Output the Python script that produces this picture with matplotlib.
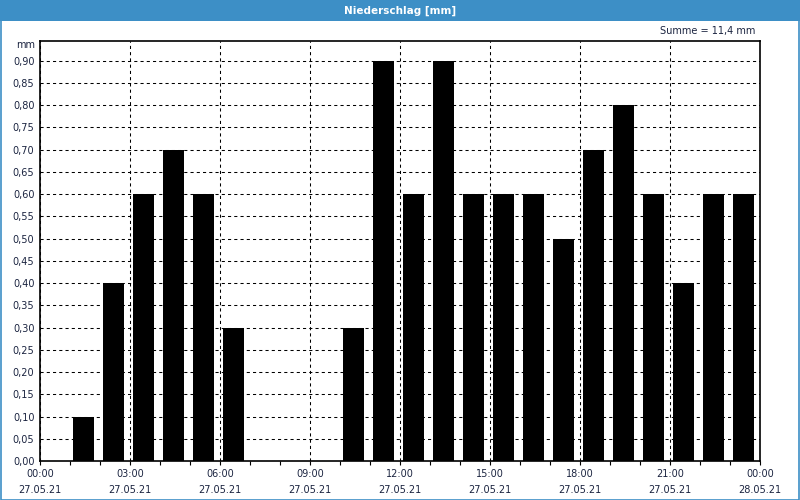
import matplotlib
matplotlib.use("Agg")
import matplotlib.pyplot as plt
from matplotlib.patches import Rectangle
from matplotlib.ticker import MultipleLocator, FuncFormatter

# stündliche Niederschlagswerte, 27.05.21 00:00 bis 28.05.21 00:00
stunden = list(range(24))
niederschlag = [0.0, 0.1, 0.4, 0.6, 0.7, 0.6, 0.3, 0.0, 0.0, 0.0, 0.3, 0.9,
                0.6, 0.9, 0.6, 0.6, 0.6, 0.5, 0.7, 0.8, 0.6, 0.4, 0.6, 0.6]
tick_stunden = [0, 3, 6, 9, 12, 15, 18, 21, 24]
tick_labels = ["00:00\n27.05.21", "03:00\n27.05.21", "06:00\n27.05.21",
               "09:00\n27.05.21", "12:00\n27.05.21", "15:00\n27.05.21",
               "18:00\n27.05.21", "21:00\n27.05.21", "00:00\n28.05.21"]
summe = "Summe = 11,4 mm"

txt = "#1b2440"
blau = "#3d8fc6"

fig = plt.figure(figsize=(8, 5), dpi=100)
fig.patch.set_facecolor("white")

# Titelbalken + Rahmen
fig.patches.append(Rectangle((0, 0.958), 1, 0.042, transform=fig.transFigure,
                             facecolor=blau, edgecolor="none", zorder=0))
fig.patches.append(Rectangle((0.001, 0.001), 0.998, 0.998, transform=fig.transFigure,
                             facecolor="none", edgecolor=blau, lw=1.2, zorder=5))
fig.text(0.5, 0.979, "Niederschlag [mm]", color="white", fontsize=7.5,
         fontweight="bold", ha="center", va="center")
fig.text(0.944, 0.938, summe, color=txt, fontsize=7, ha="right", va="center")
fig.text(0.044, 0.909, "mm", color=txt, fontsize=7, ha="right", va="center")

ax = fig.add_axes([0.05, 0.078, 0.9, 0.841])
ax.bar([h + 0.1 for h in stunden], niederschlag, width=0.7, align="edge",
       color="black", zorder=3)

ax.set_xlim(0, 24)
ax.set_ylim(0, 0.945)
ax.set_axisbelow(True)

ax.set_xticks(tick_stunden)
ax.set_xticklabels(tick_labels)
ax.xaxis.set_minor_locator(MultipleLocator(1))
ax.yaxis.set_major_locator(MultipleLocator(0.05))
ax.yaxis.set_major_formatter(FuncFormatter(lambda v, p: f"{v:.2f}".replace(".", ",")))

ax.tick_params(axis="x", which="both", length=3, width=0.8, color="black",
               labelsize=7, labelcolor=txt, pad=2.5)
ax.tick_params(axis="y", length=0, labelsize=7, labelcolor=txt, pad=4)
for lab in ax.get_xticklabels():
    lab.set_linespacing(1.75)

ax.grid(True, color="black", linestyle=(0, (3, 3)), linewidth=0.75)
for s in ax.spines.values():
    s.set_linewidth(1.2)
    s.set_color("black")

fig.savefig("out.png", dpi=100)
